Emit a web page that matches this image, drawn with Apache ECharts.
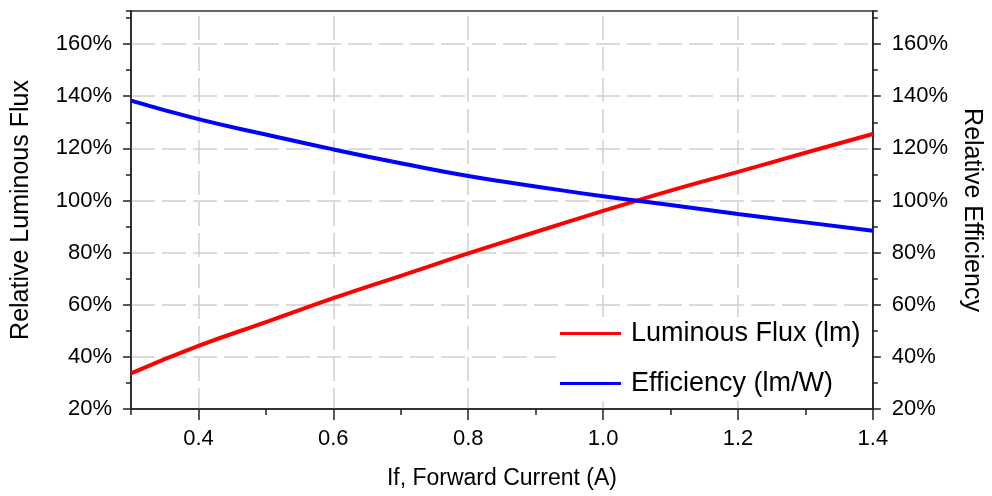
<!DOCTYPE html>
<html>
<head>
<meta charset="utf-8">
<script src="https://cdn.jsdelivr.net/npm/echarts@6/dist/echarts.min.js"></script>
<style>
html,body{margin:0;padding:0;background:#fff;}
#chart{width:992px;height:496px;}
</style>
</head>
<body>
<div id="chart"></div>
<script>
// Forward current (A)
const currentValues = [0.3, 0.4, 0.5, 0.6, 0.7, 0.8, 0.9, 1.0, 1.1, 1.2, 1.3, 1.4];
// Relative luminous flux (%)
const fluxValues = [33.7, 44.2, 53.3, 62.5, 71.1, 79.7, 87.9, 96.0, 103.8, 111.0, 118.3, 125.5];
// Relative efficiency (%)
const efficiencyValues = [138.3, 131.2, 125.3, 119.6, 114.3, 109.4, 105.4, 101.6, 98.3, 94.8, 91.6, 88.4];
// x tick labels
const xTickValues = [0.4, 0.6, 0.8, 1.0, 1.2, 1.4];
const seriesNames = ['Luminous Flux (lm)', 'Efficiency (lm/W)'];
const xAxisTitle = 'If, Forward Current (A)';
const leftAxisTitle = 'Relative Luminous Flux';
const rightAxisTitle = 'Relative Efficiency';

const FONT = "'Liberation Sans', Arial, sans-serif";
const hGridDash = { color: '#cfcfcf', width: 1.5, type: [24, 7] };
const vGridDash = { color: '#cfcfcf', width: 1.5, type: [24, 7], dashOffset: 26 };
const axisLineStyle = { color: '#222', width: 1.5 };

const chart = echarts.init(document.getElementById('chart'), null, { renderer: 'canvas' });

function pairs(xs, ys) { return xs.map((x, i) => [x, ys[i]]); }

const yMain = (pos) => ({
  type: 'value', position: pos, min: 20, max: 172.7, interval: 20,
  axisLine: { show: true, lineStyle: axisLineStyle },
  axisTick: { show: true, length: 8, inside: false, lineStyle: { color: '#222', width: 1.5 } },
  axisLabel: { show: true, margin: 19, color: '#000', fontFamily: FONT, fontSize: 22,
    formatter: (v) => Math.round(v) + '%', showMaxLabel: false, showMinLabel: true },
  splitLine: { show: pos === 'left', showMaxLine: false, showMinLine: false, lineStyle: hGridDash },
  minorTick: { show: false }
});
const yMinor = (pos) => ({
  type: 'value', position: pos, min: 20, max: 172.7, interval: 10,
  axisLine: { show: false }, axisLabel: { show: false }, splitLine: { show: false },
  axisTick: { show: true, length: 5, lineStyle: { color: '#222', width: 1.5 } }
});

const option = {
  backgroundColor: '#fff',
  animation: false,
  textStyle: { fontFamily: FONT },
  grid: { left: 131, right: 117, top: 11, bottom: 87, show: true, borderColor: '#333', borderWidth: 1.5, backgroundColor: 'transparent' },
  legend: {
    orient: 'vertical', left: 556, top: 317,
    backgroundColor: '#fff', padding: [3, 11, 4, 4], itemGap: 23,
    icon: 'rect', itemWidth: 61, itemHeight: 3,
    textStyle: { fontFamily: FONT, fontSize: 27, color: '#000', padding: [0, 0, 0, 5] },
    data: seriesNames
  },
  xAxis: [
    {
      type: 'value', position: 'bottom', min: 0.3, max: 1.4, splitNumber: 5,
      name: xAxisTitle, nameLocation: 'middle', nameGap: 58,
      nameTextStyle: { fontFamily: FONT, fontSize: 23, color: '#000' },
      axisLine: { show: true, lineStyle: axisLineStyle },
      axisTick: { show: true, length: 11, customValues: xTickValues, lineStyle: { color: '#222', width: 1.5 } },
      axisLabel: { margin: 19, color: '#000', fontFamily: FONT, fontSize: 22, customValues: xTickValues,
        formatter: (v) => v.toFixed(1) },
      splitLine: { show: true, showMaxLine: false, showMinLine: true, lineStyle: vGridDash }
    },
    {
      type: 'value', position: 'bottom', min: 0.3, max: 1.4, interval: 0.1,
      axisLine: { show: false }, axisLabel: { show: false }, splitLine: { show: false },
      axisTick: { show: true, length: 6, lineStyle: { color: '#222', width: 1.5 } }
    }
  ],
  yAxis: [
    Object.assign(yMain('left'), {
      name: leftAxisTitle, nameLocation: 'middle', nameGap: 97, nameRotate: 90,
      nameTextStyle: { fontFamily: FONT, fontSize: 25, color: '#000' }
    }),
    Object.assign(yMain('right'), {
      name: rightAxisTitle, nameLocation: 'middle', nameGap: 86, nameRotate: -90,
      nameTextStyle: { fontFamily: FONT, fontSize: 25, color: '#000' }
    }),
    yMinor('left'),
    yMinor('right')
  ],
  series: [
    {
      name: seriesNames[0], type: 'line', xAxisIndex: 0, yAxisIndex: 0,
      data: pairs(currentValues, fluxValues), smooth: true, symbol: 'none',
      lineStyle: { color: '#ff0000', width: 4 }, itemStyle: { color: '#ff0000' }, z: 3
    },
    {
      name: seriesNames[1], type: 'line', xAxisIndex: 0, yAxisIndex: 1,
      data: pairs(currentValues, efficiencyValues), smooth: true, symbol: 'none',
      lineStyle: { color: '#0000ff', width: 4 }, itemStyle: { color: '#0000ff' }, z: 3
    }
  ]
};
chart.setOption(option);
</script>
</body>
</html>
